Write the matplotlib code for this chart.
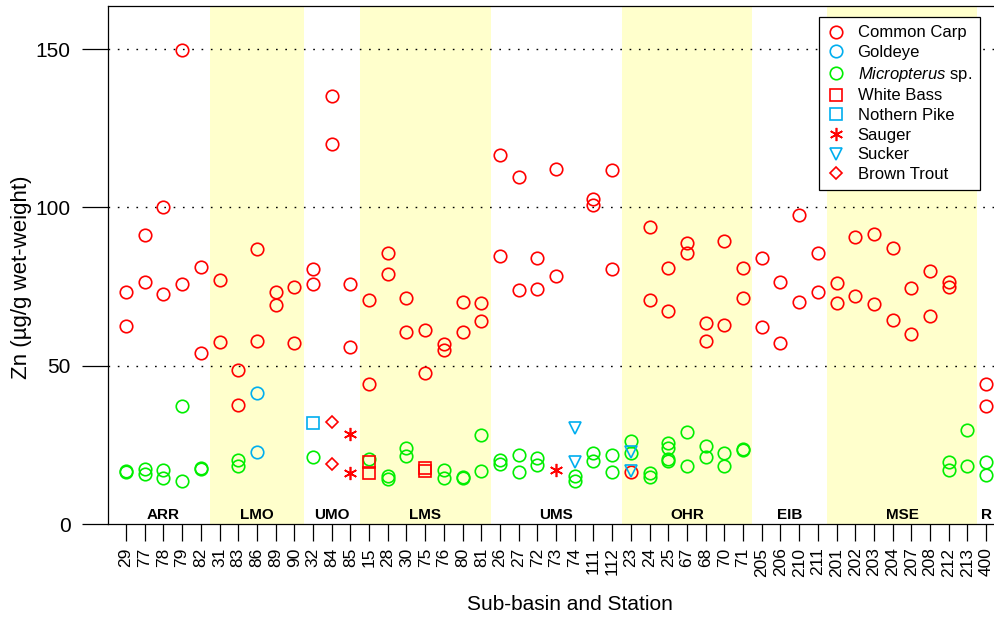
import numpy as np
import matplotlib
matplotlib.use('Agg')
import matplotlib.pyplot as plt
from matplotlib import font_manager
import matplotlib.transforms as mtransforms

# pick a condensed face if one is around
names = set(f.name for f in font_manager.fontManager.ttflist)
narrow = 'Liberation Sans Narrow' if 'Liberation Sans Narrow' in names else 'Liberation Sans'
plt.rcParams['font.family'] = [narrow, 'DejaVu Sans']
plt.rcParams['mathtext.fontset'] = 'custom'
plt.rcParams['mathtext.it'] = narrow + ':italic'
plt.rcParams['mathtext.rm'] = narrow

stations = ['29', '77', '78', '79', '82', '31', '83', '86', '89', '90', '32', '84', '85',
            '15', '28', '30', '75', '76', '80', '81', '26', '27', '72', '73', '74', '111', '112',
            '23', '24', '25', '67', '68', '70', '71', '205', '206', '210', '211',
            '201', '202', '203', '204', '207', '208', '212', '213', '400']
regions = ['ARR', 'LMO', 'UMO', 'LMS', 'UMS', 'OHR', 'EIB', 'MSE', 'R']
region_counts = [5, 5, 3, 7, 7, 7, 4, 8, 1]
shaded = ['LMO', 'LMS', 'OHR', 'MSE']

carp_st = ['29', '29', '77', '77', '78', '78', '79', '79', '82', '82', '31', '31', '83', '83',
           '86', '86', '89', '89', '90', '90', '32', '32', '84', '84', '85', '85', '15', '15',
           '28', '28', '30', '30', '75', '75', '76', '76', '80', '80', '81', '81', '26', '26',
           '27', '27', '72', '72', '73', '73', '111', '111', '112', '112', '23', '24', '24',
           '25', '25', '67', '67', '68', '68', '70', '70', '71', '71', '205', '205', '206', '206',
           '210', '210', '211', '211', '201', '201', '202', '202', '203', '203', '204', '204',
           '207', '207', '208', '208', '212', '212', '400', '400']
carp_zn = [73.3, 62.4, 91.4, 76.5, 100.2, 72.5, 149.7, 75.7, 81.3, 53.9, 77.0, 57.4, 48.5, 37.6,
           87.0, 57.8, 73.4, 69.2, 75.0, 57.1, 80.5, 75.7, 135.1, 120.0, 75.8, 55.9, 70.7, 44.3,
           85.6, 78.8, 71.5, 60.5, 61.4, 47.6, 56.8, 55.1, 70.2, 60.6, 69.9, 64.1, 116.5, 84.5,
           109.7, 73.9, 84.1, 74.3, 112.0, 78.2, 102.6, 100.9, 111.9, 80.6, 16.4, 93.8, 70.8,
           80.8, 67.4, 88.6, 85.6, 63.4, 57.9, 89.3, 62.9, 80.9, 71.5, 83.9, 62.1, 76.3, 57.1,
           97.6, 70.1, 85.6, 73.4, 76.2, 69.8, 90.5, 72.0, 91.6, 69.5, 87.1, 64.5,
           74.4, 60.0, 79.9, 65.6, 76.5, 74.8, 44.2, 37.2]

goldeye_st = ['86', '86']
goldeye_zn = [41.5, 22.7]

micro_st = ['29', '29', '77', '77', '78', '78', '79', '79', '82', '82', '83', '83', '32', '15',
            '28', '28', '30', '30', '76', '76', '80', '80', '81', '81', '26', '26', '27', '27',
            '72', '72', '74', '74', '111', '111', '112', '112', '23', '23', '24', '24',
            '25', '25', '25', '25', '67', '67', '68', '68', '70', '70', '71', '71',
            '212', '212', '213', '213', '400', '400']
micro_zn = [16.8, 16.5, 17.3, 15.9, 17.2, 14.6, 37.2, 13.7, 17.4, 17.6, 20.3, 18.2, 21.1, 20.4,
            15.1, 14.3, 23.9, 21.6, 17.0, 14.6, 14.8, 14.6, 28.1, 16.8, 20.2, 19.0, 21.8, 16.5,
            20.8, 18.7, 15.1, 13.7, 22.4, 19.8, 21.9, 16.3, 26.2, 22.4, 16.2, 14.9,
            25.6, 24.0, 20.5, 20.0, 29.0, 18.4, 24.6, 21.1, 22.4, 18.4, 23.6, 23.3,
            19.5, 17.0, 29.7, 18.3, 19.7, 15.4]

wbass_st = ['15', '15', '75', '75']
wbass_zn = [19.5, 16.2, 17.8, 16.8]
pike_st = ['32']
pike_zn = [31.8]
sauger_st = ['85', '85', '73']
sauger_zn = [28.4, 16.2, 17.1]
sucker_st = ['74', '74', '23', '23']
sucker_zn = [30.3, 19.5, 22.7, 16.8]
trout_st = ['84', '84']
trout_zn = [32.1, 19.1]

red = '#FF0000'
blue = '#00AEEF'
green = '#00EE00'

pos = {s: i for i, s in enumerate(stations)}

fig = plt.figure(figsize=(9.94, 6.2), dpi=100)
ax = fig.add_axes([108/994, 1 - 524/620, 1 - 108/994, 518/620])
ax.set_xlim(-0.963, 46.42)
ax.set_ylim(0, 163.6)

# sub-basin bands and names
start = 0
trans = mtransforms.blended_transform_factory(ax.transData, ax.transAxes)
for reg, n in zip(regions, region_counts):
    if reg in shaded:
        ax.axvspan(start - 0.5, start + n - 0.5, color='#FFFFCC', lw=0, zorder=0)
    ax.text(start + (n - 1) / 2, 0.004, reg, transform=trans, ha='center', va='bottom',
            fontsize=11, fontweight='bold', family='Liberation Sans', zorder=5)
    start += n

for yv in [50, 100, 150]:
    ax.axhline(yv, color='black', lw=1.0, ls=(0, (1.2, 5.5)), zorder=1)

def put(st, zn, marker, color, label, ms=9):
    xs = [pos[s] for s in st]
    ax.plot(xs, zn, ls='none', marker=marker, ms=ms, mfc='none', mec=color, mew=1.2,
            label=label, zorder=3)

put(carp_st, carp_zn, 'o', red, 'Common Carp')
put(goldeye_st, goldeye_zn, 'o', blue, 'Goldeye')
put(micro_st, micro_zn, 'o', green, r'$\mathit{Micropterus}$ sp.')
put(wbass_st, wbass_zn, 's', red, 'White Bass', ms=8.5)
put(pike_st, pike_zn, 's', blue, 'Nothern Pike', ms=8.5)
put(sauger_st, sauger_zn, (6, 2, 0), red, 'Sauger', ms=9.5)
put(sucker_st, sucker_zn, 'v', blue, 'Sucker', ms=8.5)
put(trout_st, trout_zn, 'D', red, 'Brown Trout', ms=6)

ax.set_xticks(range(len(stations)))
ax.set_xticklabels(stations, rotation=90, fontsize=12.5)
ax.set_yticks([0, 50, 100, 150])
ax.tick_params(axis='x', direction='out', length=12, width=0.9, pad=5)
ax.tick_params(axis='y', direction='out', length=19, width=0.9, pad=8, labelsize=15)
for sp in ['left', 'bottom', 'top']:
    ax.spines[sp].set_linewidth(0.9)
ax.spines['right'].set_visible(False)

fig.text(22/994, 1 - 277/620, 'Zn (\u00b5g/g wet-weight)', rotation=90, ha='center',
         va='center', fontsize=16)
fig.text(570/994, 1 - 604/620, 'Sub-basin and Station', ha='center', va='center',
         fontsize=15, family='Liberation Sans')

leg = ax.legend(loc='upper right', bbox_to_anchor=((980-108)/886, (524-17)/518),
                borderaxespad=0, fontsize=12, labelspacing=0.28, handlelength=1.0,
                handletextpad=0.8, borderpad=0.5, fancybox=False, framealpha=1,
                edgecolor='black')
leg.get_frame().set_linewidth(0.9)

fig.savefig('out.png', dpi=100)
